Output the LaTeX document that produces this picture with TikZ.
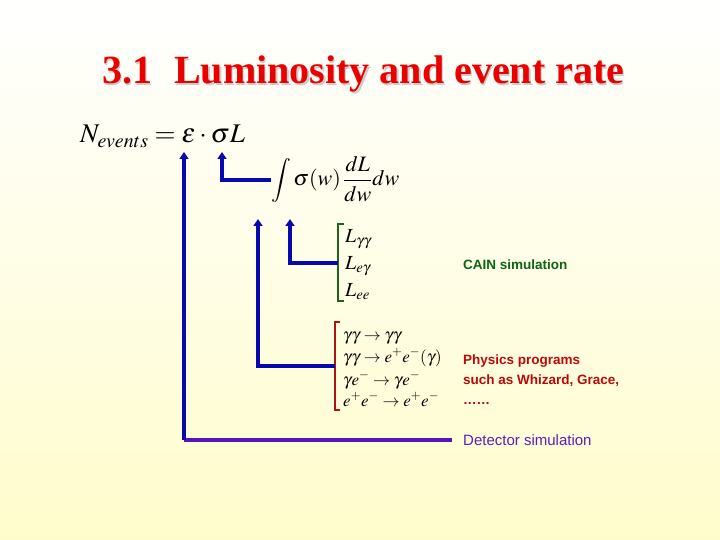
\documentclass[tikz,border=0pt]{standalone}
\usepackage{mathptmx}
\usepackage[no-math]{fontspec}
\setmainfont{Liberation Serif}
\newfontfamily\gothic{Liberation Sans}
\usetikzlibrary{arrows.meta}
\definecolor{bgY}{RGB}{255,252,204}
\definecolor{titlered}{RGB}{235,0,0}
\definecolor{arrowblue}{RGB}{8,8,175}
\definecolor{detpurple}{RGB}{85,20,190}
\definecolor{dettext}{RGB}{95,30,180}
\definecolor{cainGreen}{RGB}{10,100,20}
\definecolor{brGreen}{RGB}{30,100,30}
\definecolor{physRed}{RGB}{185,10,10}
\definecolor{brRed}{RGB}{170,20,20}
\tikzset{
  txt/.style={inner sep=0pt, anchor=base west},
  bline/.style={draw=arrowblue, line width=3.5pt},
  upar/.style={bline, -{Triangle[width=9pt,length=7pt]}},
  pline/.style={draw=detpurple, line width=3.5pt},
  gbrack/.style={draw=brGreen, line width=2.6pt},
  rbrack/.style={draw=brRed, line width=2.6pt},
}
\begin{document}
\begin{tikzpicture}[x=1pt,y=-1pt]
\useasboundingbox (0,0) rectangle (720,540);
\shade[top color=white, bottom color=bgY] (0,0) rectangle (720,540);

% title with shadow
\node[txt, text=black!20] (titleshadow) at (103.5,85.5)
  {\fontsize{40}{48}\selectfont\bfseries 3.1\hspace{22pt}Luminosity and event rate};
\node[txt, text=titlered] (title) at (102,84)
  {\fontsize{40}{48}\selectfont\bfseries 3.1\hspace{22pt}Luminosity and event rate};

% main equation
\node[txt] (eq) at (80,143)
  {\fontsize{27}{31}\selectfont $N_{events} = \epsilon\cdot\sigma L$};

% integral
\node[txt] (integral) at (271,186)
  {\fontsize{22}{26}\selectfont $\displaystyle \int\sigma(w)\,\frac{dL}{dw}dw$};

% luminosities
\node[txt] (lgg) at (345,242) {\fontsize{20}{24}\selectfont $L_{\gamma\gamma}$};
\node[txt] (leg) at (345,269) {\fontsize{20}{24}\selectfont $L_{e\gamma}$};
\node[txt] (lee) at (345,296) {\fontsize{20}{24}\selectfont $L_{ee}$};

% processes
\node[txt] (p1) at (343,340) {\fontsize{17}{20}\selectfont $\gamma\gamma\to\gamma\gamma$};
\node[txt] (p2) at (343,362) {\fontsize{17}{20}\selectfont $\gamma\gamma\to e^+e^-(\gamma)$};
\node[txt] (p3) at (343,385) {\fontsize{17}{20}\selectfont $\gamma e^-\to\gamma e^-$};
\node[txt] (p4) at (343,406) {\fontsize{17}{20}\selectfont $e^+e^-\to e^+e^-$};

% side texts
\node[txt, text=cainGreen] (cain) at (463,269)
  {\fontsize{13.5}{16}\selectfont\gothic\bfseries CAIN simulation};
\node[txt, text=physRed] (phys1) at (463,364)
  {\fontsize{13.5}{16}\selectfont\gothic\bfseries Physics programs};
\node[txt, text=physRed] (phys2) at (463,384)
  {\fontsize{13.5}{16}\selectfont\gothic\bfseries such as Whizard, Grace,};
\node[txt, text=physRed] (phys3) at (463,404)
  {\fontsize{13.5}{16}\selectfont\gothic\bfseries ……};
\node[txt, text=dettext] (det) at (463,445)
  {\fontsize{15}{17}\selectfont\gothic Detector simulation};

% brackets
\draw[gbrack] (344,224) -- (338,224) -- (338,301) -- (344,301);
\draw[rbrack] (340,322) -- (335,322) -- (335,410) -- (340,410);

% connector anchor points
\coordinate (tipE) at (184,152);
\coordinate (tipL) at (222,152);
\coordinate (tipP) at (258,219);
\coordinate (tipC) at (290,219);
\coordinate (intIn) at (271,180);
\coordinate (gbr) at (338,263);
\coordinate (rbr) at (335,366);
\coordinate (detIn) at (452,440);
\coordinate (corner) at (184,440);

% connectors
\draw[pline] (detIn) -- (corner);
\draw[upar] (corner) -- (tipE);
\draw[upar] (intIn) -| (tipL);
\draw[upar] (rbr) -| (tipP);
\draw[upar] (gbr) -| (tipC);
\end{tikzpicture}
\end{document}
